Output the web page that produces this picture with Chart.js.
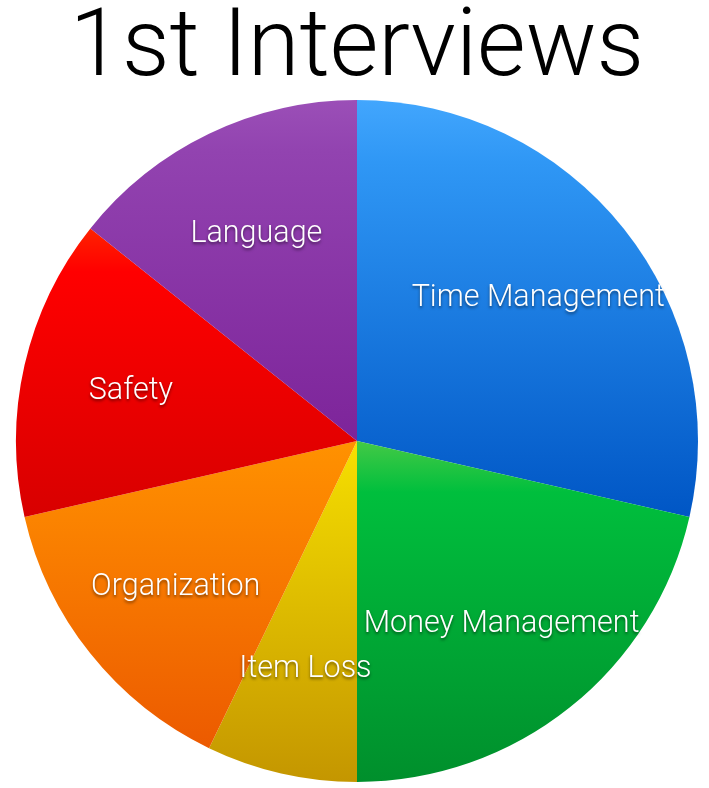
<!DOCTYPE html>
<html>
<head>
<meta charset="utf-8">
<script src="https://cdn.jsdelivr.net/npm/chart.js@4"></script>
<style>
html,body{margin:0;padding:0;background:#fff;}
#wrap{width:709px;height:788px;}
</style>
</head>
<body>
<div id="wrap"><canvas id="c" width="709" height="788"></canvas></div>
<script>
const categories = ["Time Management", "Money Management", "Item Loss", "Organization", "Safety", "Language"];
const values = [4, 3, 1, 2, 2, 2];
const colorTop = ["#42a6fd", "#44c946", "#f8e000", "#ff9200", "#ff2200", "#9b4fb7"];
const colorMid = ["#2f97f5", "#00bf3d", "#eed400", "#fd8900", "#ff0000", "#9243b0"];
const colorBottom = ["#0056c5", "#008f2c", "#c49600", "#ec5a00", "#d80000", "#7d249a"];
const titleText = "1st Interviews";

function sliceYRange(i, area) {
  const total = values.reduce((a, b) => a + b, 0);
  let start = 0;
  for (let k = 0; k < i; k++) start += values[k];
  const a0 = -Math.PI / 2 + start / total * 2 * Math.PI;
  const a1 = a0 + values[i] / total * 2 * Math.PI;
  const cx = (area.left + area.right) / 2, cy = (area.top + area.bottom) / 2;
  const r = Math.min(area.right - area.left, area.bottom - area.top) / 2;
  const ys = [cy, cy + r * Math.sin(a0), cy + r * Math.sin(a1)];
  [-Math.PI / 2, Math.PI / 2, 3 * Math.PI / 2].forEach(a => {
    if (a > a0 && a < a1) ys.push(cy + r * Math.sin(a));
  });
  return [Math.min(...ys), Math.max(...ys)];
}

const labelPlugin = {
  id: 'sliceLabels',
  afterDatasetsDraw(chart) {
    const ctx = chart.ctx;
    const meta = chart.getDatasetMeta(0);
    ctx.save();
    ctx.font = '300 30.5px Roboto, "Open Sans", sans-serif';
    ctx.textAlign = 'center';
    ctx.textBaseline = 'middle';
    meta.data.forEach((arc, i) => {
      const p = arc.getProps(['x', 'y', 'startAngle', 'endAngle', 'outerRadius'], true);
      const mid = (p.startAngle + p.endAngle) / 2;
      const rr = p.outerRadius * 0.68;
      const x = p.x + Math.cos(mid) * rr;
      const y = p.y + Math.sin(mid) * rr + 2;
      ctx.shadowColor = 'rgba(0,0,0,0.5)';
      ctx.shadowBlur = 3;
      ctx.shadowOffsetX = 0;
      ctx.shadowOffsetY = 2;
      ctx.fillStyle = '#ffffff';
      ctx.fillText(categories[i], x, y);
    });
    ctx.restore();
  }
};

new Chart(document.getElementById('c'), {
  type: 'pie',
  data: {
    labels: categories,
    datasets: [{
      data: values,
      borderWidth: 0,
      backgroundColor: (c) => {
        const chart = c.chart;
        const area = chart.chartArea;
        if (!area) return colorTop[c.dataIndex];
        const [y0, y1] = sliceYRange(c.dataIndex, area);
        const g = chart.ctx.createLinearGradient(0, y0, 0, y1);
        g.addColorStop(0, colorTop[c.dataIndex]);
        g.addColorStop(0.15, colorMid[c.dataIndex]);
        g.addColorStop(1, colorBottom[c.dataIndex]);
        return g;
      }
    }]
  },
  options: {
    responsive: false,
    animation: false,
    layout: { padding: { left: 16, right: 11, top: 0, bottom: 6 } },
    plugins: {
      legend: { display: false },
      tooltip: { enabled: false },
      title: {
        display: true,
        text: titleText,
        color: '#000000',
        font: { family: 'Roboto, "Liberation Sans", sans-serif', size: 94, weight: '300', lineHeight: 1 },
        padding: { top: 4, bottom: 2 }
      }
    }
  },
  plugins: [labelPlugin]
});
</script>
</body>
</html>
